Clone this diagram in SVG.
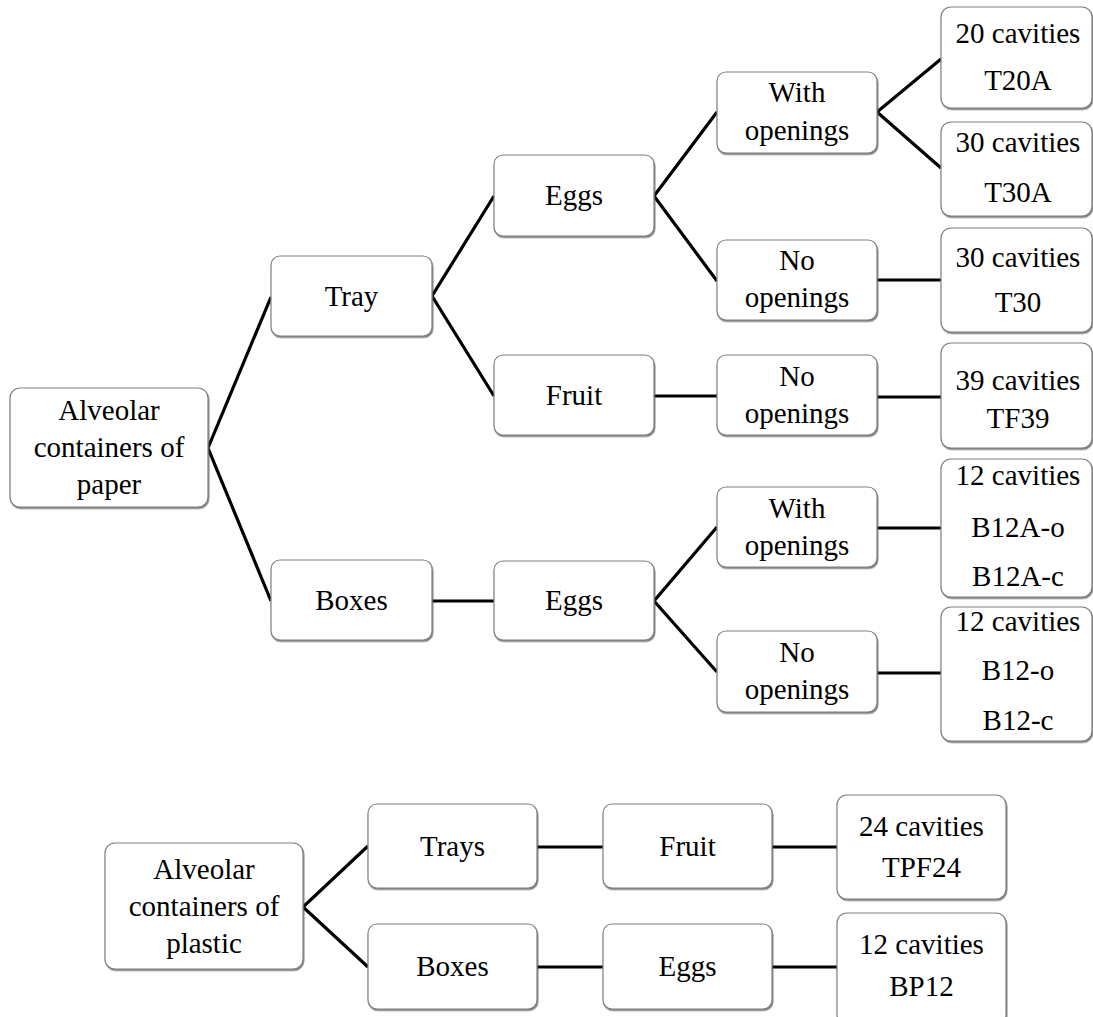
<svg xmlns="http://www.w3.org/2000/svg" width="1093" height="1017" viewBox="0 0 1093 1017">
<defs>
<filter id="sh" x="-5%" y="-5%" width="112%" height="115%">
<feDropShadow dx="0.8" dy="1.5" stdDeviation="0.7" flood-color="#444" flood-opacity="0.7"/>
</filter>
</defs>
<style>
.n rect{fill:#fff;stroke:#808080;stroke-width:1.2;filter:url(#sh)}
.n text{font-family:"Liberation Serif","Times New Roman",serif;font-size:29px;fill:#000;text-anchor:middle}
#connectors path{fill:none;stroke:#000;stroke-width:3.2;stroke-linejoin:miter}
</style>
<rect width="1093" height="1017" fill="#fff"/>
<g id="connectors">
<path d="M271,297 L208,448 L271,601"/>
<path d="M494,196 L432,296 L494,396"/>
<path d="M432,601 L494,601"/>
<path d="M717,112 L654,196 L717,281"/>
<path d="M654,396 L717,396"/>
<path d="M717,527 L654,601 L717,672"/>
<path d="M941,59 L877,112 L941,168"/>
<path d="M877,280 L941,280"/>
<path d="M877,397 L941,397"/>
<path d="M877,528 L941,528"/>
<path d="M877,673 L941,673"/>
<path d="M368,846 L303,907 L368,967"/>
<path d="M537,847 L603,847"/>
<path d="M772,847 L837,847"/>
<path d="M537,967 L603,967"/>
<path d="M772,967 L837,967"/>
</g>
<g id="root-paper" class="n"><rect x="10" y="388" width="198" height="119" rx="10"/><text x="109" y="420">Alveolar</text><text x="109" y="457">containers of</text><text x="109" y="494">paper</text></g>
<g id="tray" class="n"><rect x="271" y="256" width="161" height="80" rx="9"/><text x="351.5" y="306">Tray</text></g>
<g id="boxes" class="n"><rect x="271" y="560" width="161" height="80" rx="9"/><text x="351.5" y="610">Boxes</text></g>
<g id="tray-eggs" class="n"><rect x="494" y="155" width="160" height="81" rx="9"/><text x="574" y="205">Eggs</text></g>
<g id="tray-fruit" class="n"><rect x="494" y="355" width="160" height="80" rx="9"/><text x="574" y="405">Fruit</text></g>
<g id="boxes-eggs" class="n"><rect x="494" y="561" width="160" height="79" rx="9"/><text x="574" y="610">Eggs</text></g>
<g id="tray-eggs-with" class="n"><rect x="717" y="72" width="160" height="81" rx="9"/><text x="797" y="102">With</text><text x="797" y="140">openings</text></g>
<g id="tray-eggs-no" class="n"><rect x="717" y="240" width="160" height="80" rx="9"/><text x="797" y="270">No</text><text x="797" y="307">openings</text></g>
<g id="tray-fruit-no" class="n"><rect x="717" y="355" width="160" height="80" rx="9"/><text x="797" y="386">No</text><text x="797" y="423">openings</text></g>
<g id="boxes-eggs-with" class="n"><rect x="717" y="487" width="160" height="80" rx="9"/><text x="797" y="518">With</text><text x="797" y="555">openings</text></g>
<g id="boxes-eggs-no" class="n"><rect x="717" y="631" width="160" height="81" rx="9"/><text x="797" y="662">No</text><text x="797" y="699">openings</text></g>
<g id="t20a" class="n"><rect x="941" y="7" width="151" height="101" rx="10"/><text x="1018" y="43">20 cavities</text><text x="1018" y="90">T20A</text></g>
<g id="t30a" class="n"><rect x="941" y="122" width="151" height="94" rx="10"/><text x="1018" y="152">30 cavities</text><text x="1018" y="202">T30A</text></g>
<g id="t30" class="n"><rect x="941" y="228" width="151" height="104" rx="10"/><text x="1018" y="267">30 cavities</text><text x="1018" y="312">T30</text></g>
<g id="tf39" class="n"><rect x="941" y="343" width="151" height="105" rx="10"/><text x="1018" y="390">39 cavities</text><text x="1018" y="428">TF39</text></g>
<g id="b12a" class="n"><rect x="941" y="459" width="151" height="138" rx="10"/><text x="1018" y="485">12 cavities</text><text x="1018" y="537">B12A-o</text><text x="1018" y="586">B12A-c</text></g>
<g id="b12" class="n"><rect x="941" y="607" width="151" height="134" rx="10"/><text x="1018" y="631">12 cavities</text><text x="1018" y="680">B12-o</text><text x="1018" y="730">B12-c</text></g>
<g id="root-plastic" class="n"><rect x="105" y="843" width="198" height="126" rx="10"/><text x="204" y="879">Alveolar</text><text x="204" y="916">containers of</text><text x="204" y="953">plastic</text></g>
<g id="trays" class="n"><rect x="368" y="804" width="169" height="84" rx="9"/><text x="452.5" y="856">Trays</text></g>
<g id="boxes-plastic" class="n"><rect x="368" y="924" width="169" height="85" rx="9"/><text x="452.5" y="976">Boxes</text></g>
<g id="trays-fruit" class="n"><rect x="603" y="804" width="169" height="84" rx="9"/><text x="687.5" y="856">Fruit</text></g>
<g id="boxes-plastic-eggs" class="n"><rect x="603" y="924" width="169" height="85" rx="9"/><text x="687.5" y="976">Eggs</text></g>
<g id="tpf24" class="n"><rect x="837" y="795" width="169" height="104" rx="10"/><text x="921.5" y="836">24 cavities</text><text x="921.5" y="877">TPF24</text></g>
<g id="bp12" class="n"><rect x="837" y="913" width="169" height="112" rx="10"/><text x="921.5" y="954">12 cavities</text><text x="921.5" y="996">BP12</text></g>
</svg>
